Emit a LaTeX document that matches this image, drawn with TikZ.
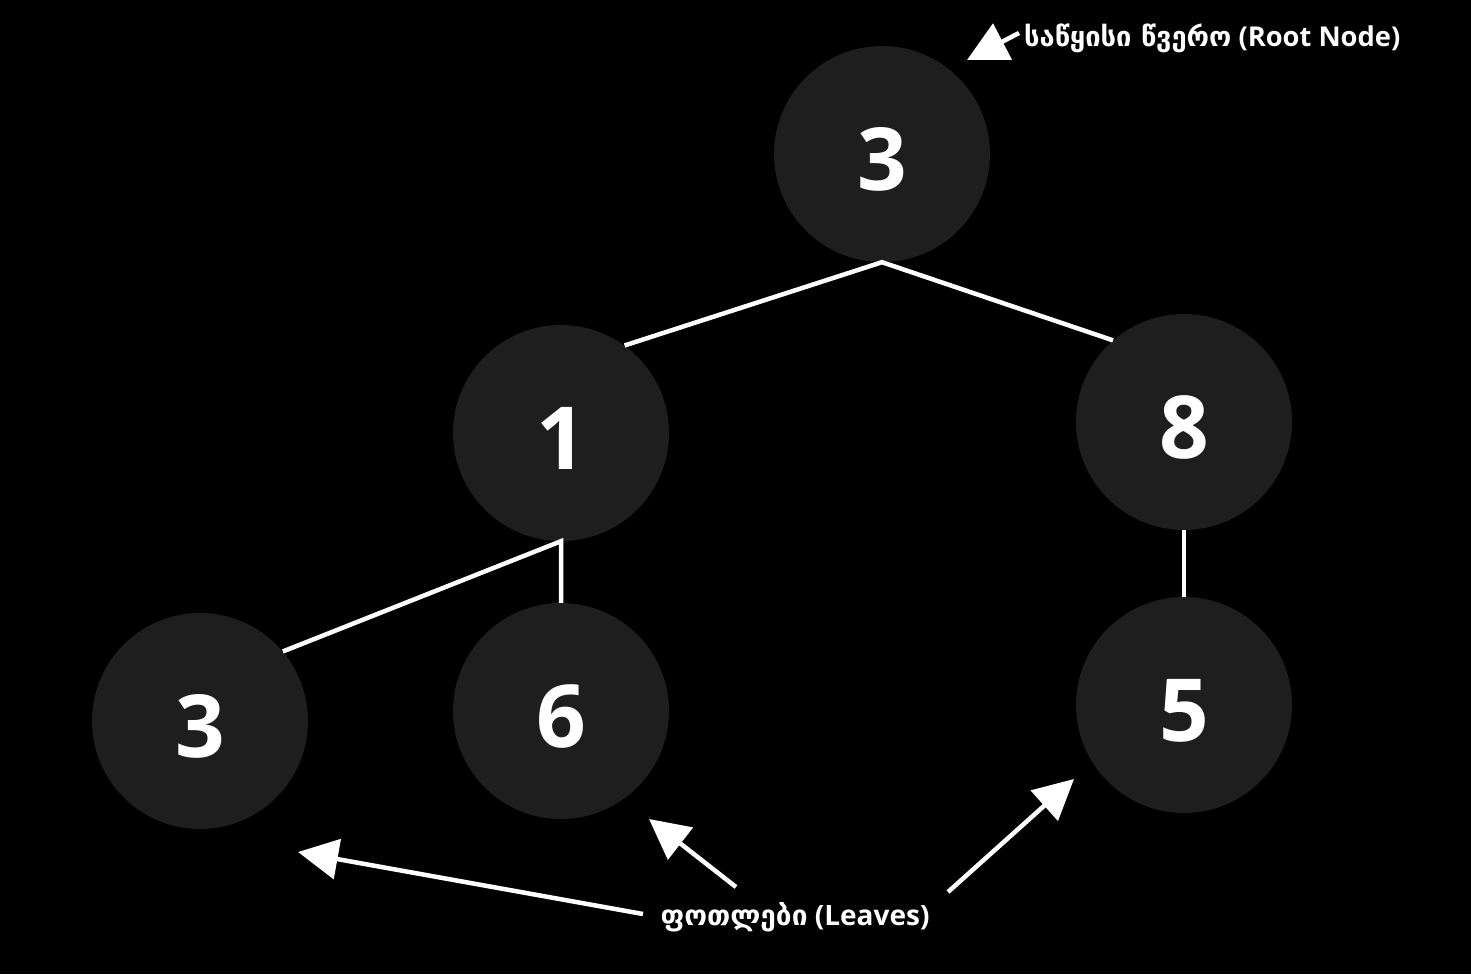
\documentclass[tikz,border=0pt]{standalone}
\usepackage{fontspec}
\setmainfont{Open Sans}
\newfontfamily\geo{DejaVu Sans}
\usetikzlibrary{arrows.meta}
\definecolor{circlegray}{HTML}{1E1E1E}
\tikzset{
  treenode/.style={circle, fill=circlegray, minimum size=216pt, inner sep=0pt,
    text=white, font=\fontsize{87}{87}\selectfont\bfseries},
  edge/.style={draw=white, line width=4.5pt},
  pointer/.style={draw=white, fill=white, line width=4.5pt,
    -{Triangle[length=40pt,width=40pt]}},
  lbl/.style={text=white, inner sep=0pt, font=\fontsize{28}{28}\selectfont\bfseries}
}
\newcommand{\dg}[1]{\raisebox{-5pt}[\height][0pt]{#1}}
\begin{document}
\begin{tikzpicture}[x=1pt,y=-1pt]
\fill[black] (0,0) rectangle (1471,974);
\useasboundingbox (0,0) rectangle (1471,974);
\node[treenode] (r) at (882,154) {\dg{3}};
\node[treenode] (a) at (561,433) {\dg{1}};
\node[treenode] (b) at (1184,422) {\dg{8}};
\node[treenode] (c) at (200,721) {\dg{3}};
\node[treenode] (d) at (561,711) {\dg{6}};
\node[treenode] (e) at (1184,705) {\dg{5}};
\draw[edge] (a.54) -- (r.south) -- (b.131);
\draw[edge] (c.40) -- (a.south) -- (d.north);
\draw[edge] (b.south) -- (e.north);
\node[lbl, anchor=base west, font=\fontsize{27.3}{28}\selectfont\bfseries] (rootlbl) at (1024,47) {{\geo საწყისი წვერო} (Root Node)};
\node[lbl, anchor=base] (leaves) at (795,925) {{\geo ფოთლები} (Leaves)};
\coordinate (rs) at (1019,33);
\coordinate (rt) at (967,60);
\coordinate (l1s) at (643,914);
\coordinate (l1t) at (298,852);
\coordinate (l2s) at (736,887);
\coordinate (l2t) at (649,819);
\coordinate (l3s) at (948,892);
\coordinate (l3t) at (1074,779);
\draw[pointer] (rs) -- (rt);
\draw[pointer] (l1s) -- (l1t);
\draw[pointer] (l2s) -- (l2t);
\draw[pointer] (l3s) -- (l3t);
\end{tikzpicture}
\end{document}
